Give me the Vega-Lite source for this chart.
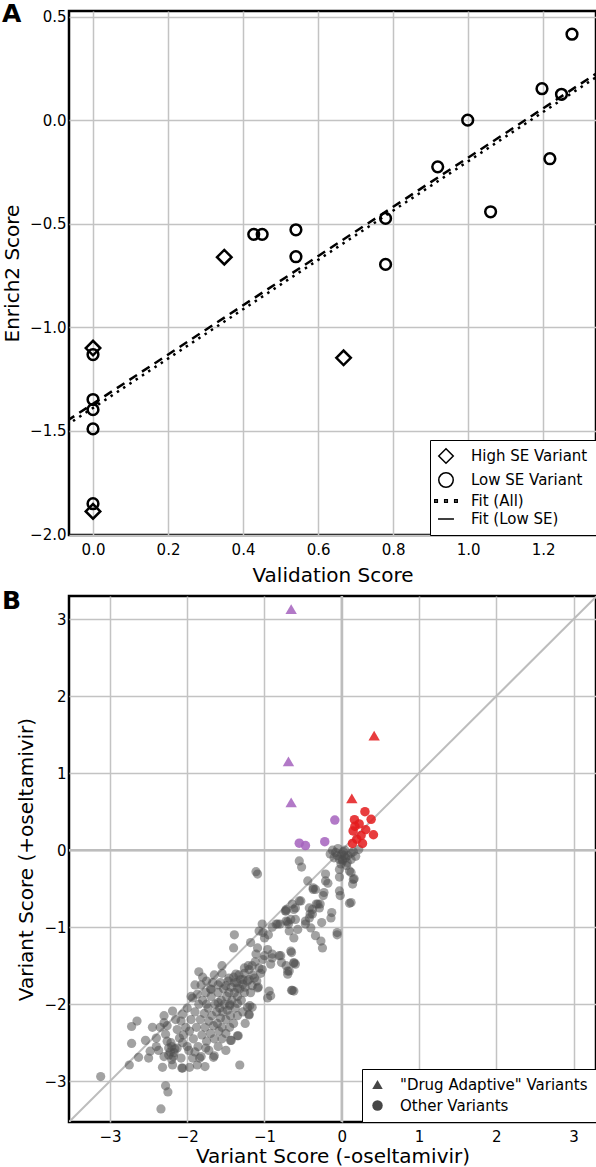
{
  "$schema": "https://vega.github.io/schema/vega-lite/v6.json",
  "padding": {"left": 0, "top": 0, "right": 1, "bottom": 0},
  "background": "white",
  "spacing": 0,
  "resolve": {"scale": {"shape": "independent", "color": "independent", "strokeDash": "independent", "size": "independent", "x": "independent", "y": "independent"}, "legend": {"shape": "independent"}},
  "datasets": {
    "ptsA": [
      {"vx": 0, "es": -1.10, "se": "High SE Variant"},
      {"vx": 0, "es": -1.888, "se": "High SE Variant"},
      {"vx": 0.35, "es": -0.661, "se": "High SE Variant"},
      {"vx": 0.668, "es": -1.147, "se": "High SE Variant"},
      {"vx": 0, "es": -1.131, "se": "Low SE Variant"},
      {"vx": 0, "es": -1.348, "se": "Low SE Variant"},
      {"vx": 0, "es": -1.397, "se": "Low SE Variant"},
      {"vx": 0, "es": -1.49, "se": "Low SE Variant"},
      {"vx": 0, "es": -1.851, "se": "Low SE Variant"},
      {"vx": 0.4285, "es": -0.551, "se": "Low SE Variant"},
      {"vx": 0.451, "es": -0.551, "se": "Low SE Variant"},
      {"vx": 0.541, "es": -0.529, "se": "Low SE Variant"},
      {"vx": 0.541, "es": -0.659, "se": "Low SE Variant"},
      {"vx": 0.78, "es": -0.474, "se": "Low SE Variant"},
      {"vx": 0.78, "es": -0.696, "se": "Low SE Variant"},
      {"vx": 0.919, "es": -0.225, "se": "Low SE Variant"},
      {"vx": 0.999, "es": 0.0, "se": "Low SE Variant"},
      {"vx": 1.06, "es": -0.442, "se": "Low SE Variant"},
      {"vx": 1.197, "es": 0.152, "se": "Low SE Variant"},
      {"vx": 1.218, "es": -0.186, "se": "Low SE Variant"},
      {"vx": 1.249, "es": 0.125, "se": "Low SE Variant"},
      {"vx": 1.277, "es": 0.415, "se": "Low SE Variant"}
    ],
    "fitA": [
      {"fit": "Fit (All)", "vx": -0.07, "es": -1.472},
      {"fit": "Fit (All)", "vx": 1.35, "es": 0.218},
      {"fit": "Fit (Low SE)", "vx": -0.07, "es": -1.452},
      {"fit": "Fit (Low SE)", "vx": 1.35, "es": 0.235}
    ],
    "grey": [
      {"x":-3.12,"y":-2.94},{"x":-2.34,"y":-3.36},{"x":-2.28,"y":-3.06},{"x":-2.25,"y":-3.14},{"x":-2.75,"y":-2.79},{"x":-2.63,"y":-2.69},{"x":-2.72,"y":-2.29},{"x":-2.65,"y":-2.22},{"x":-2.72,"y":-2.51},{"x":-2.54,"y":-2.47},{"x":-2.48,"y":-2.61},{"x":-2.37,"y":-2.60},{"x":-2.40,"y":-2.44},{"x":-2.32,"y":-2.82},{"x":-2.06,"y":-2.83},{"x":-1.85,"y":-1.58},{"x":-1.32,"y":-2.79},{"x":-1.66,"y":-2.69},{"x":-1.39,"y":-1.10},{"x":-1.40,"y":-1.27},{"x":-1.11,"y":-0.28},{"x":-1.09,"y":-0.31},{"x":-1.19,"y":-2.02},{"x":-1.20,"y":-2.14},{"x":-1.43,"y":-2.47},{"x":-1.34,"y":-2.41},{"x":-0.94,"y":-1.83},{"x":-0.96,"y":-1.92},{"x":-0.65,"y":-1.82},{"x":-1.08,"y":-1.78},{"x":-1.03,"y":-0.96},{"x":-1.00,"y":-1.14},{"x":-1.07,"y":-1.05},{"x":-0.85,"y":-0.96},{"x":-0.73,"y":-0.79},{"x":-0.60,"y":-0.75},{"x":-0.69,"y":-0.96},{"x":-0.65,"y":-1.33},{"x":-0.70,"y":-1.57},{"x":-0.62,"y":-1.47},{"x":-0.79,"y":-1.37},{"x":-0.92,"y":-1.48},{"x":-0.90,"y":-1.35},{"x":-0.52,"y":-0.22},{"x":-0.55,"y":-0.14},{"x":0.01,"y":-0.12},{"x":0.07,"y":-0.16},{"x":0.12,"y":-0.29},{"x":0.15,"y":-0.38},{"x":0.14,"y":-0.44},{"x":0.12,"y":-0.68},{"x":-0.03,"y":-0.53},{"x":-0.02,"y":-0.59},{"x":-0.06,"y":-1.10},{"x":-0.21,"y":-0.31},{"x":-0.21,"y":-0.40},{"x":-0.23,"y":-0.55},{"x":-0.24,"y":-0.59},{"x":-0.13,"y":-0.81},{"x":-0.14,"y":-0.88},{"x":-0.34,"y":-0.51},{"x":-0.37,"y":-0.51},{"x":-0.31,"y":-0.70},{"x":-0.38,"y":-0.77},{"x":-0.41,"y":-0.83},{"x":-0.26,"y":-0.94},{"x":-0.29,"y":-0.75},{"x":-0.44,"y":-0.40},{"x":-0.37,"y":-0.49},{"x":-0.60,"y":-0.90},{"x":-0.57,"y":-1.03},{"x":-0.62,"y":-1.14},{"x":-0.47,"y":-0.92},{"x":-0.40,"y":-1.01},{"x":-0.34,"y":-1.11},{"x":-0.27,"y":-1.18},{"x":-0.25,"y":-1.27},{"x":-0.55,"y":-0.66},{"x":-0.64,"y":-0.70},{"x":-0.60,"y":-1.48},{"x":-0.62,"y":-1.83},
      {"x":-0.12,"y":0.0},{"x":-0.05,"y":0.02},{"x":0.04,"y":0.0},{"x":0.12,"y":-0.04},{"x":0.22,"y":0.01},{"x":0.01,"y":-0.14},{"x":0.05,"y":-0.10},{"x":-0.03,"y":-0.12},{"x":0.12,"y":-0.12},{"x":0.03,"y":-0.07},{"x":-0.06,"y":-0.07},{"x":0.10,"y":-0.27},{"x":-0.03,"y":-0.25},{"x":-0.03,"y":-0.35},{"x":0.16,"y":-0.37},{"x":-0.18,"y":-0.43},{"x":-0.33,"y":-0.70},{"x":-0.28,"y":-0.70},{"x":0.10,"y":-0.69},{"x":-0.53,"y":-0.66},{"x":-0.72,"y":-0.77},{"x":-0.42,"y":-0.75},{"x":-0.38,"y":-0.83},{"x":-0.42,"y":-0.88},{"x":-0.47,"y":-0.96},{"x":-0.66,"y":-0.90},{"x":-0.72,"y":-0.92},{"x":-0.83,"y":-0.96},{"x":-1.02,"y":-1.07},{"x":-0.06,"y":-1.07},
      {"x":0.0,"y":-0.05},{"x":0.02,"y":-0.02},{"x":-0.08,"y":-0.03},{"x":0.08,"y":-0.07},{"x":-0.01,"y":-0.18},{"x":0.06,"y":-0.20},{"x":-0.10,"y":-0.10},{"x":0.15,"y":-0.02},{"x":-0.15,"y":-0.05},{"x":0.18,"y":-0.08},
      {"x":-0.80,"y":-0.96},{"x":-0.70,"y":-0.93},{"x":-0.68,"y":-1.05},{"x":-0.62,"y":-0.77},{"x":-0.72,"y":-0.79},
      {"x":-1.18,"y":-1.20},{"x":-1.09,"y":-1.27},{"x":-1.11,"y":-1.35},{"x":-0.96,"y":-1.29},{"x":-1.00,"y":-1.37},{"x":-0.90,"y":-1.40},{"x":-0.81,"y":-1.37},{"x":-0.78,"y":-1.46},{"x":-0.66,"y":-1.31},{"x":-0.62,"y":-1.46},{"x":-0.72,"y":-1.50},{"x":-0.68,"y":-1.57},{"x":-0.70,"y":-1.61},{"x":-0.64,"y":-1.82},
      {"x":-1.07,"y":-1.53},{"x":-1.03,"y":-1.55},{"x":-1.16,"y":-1.50},{"x":-1.21,"y":-1.50},{"x":-1.26,"y":-1.53},
      {"x":-1.46,"y":-1.66},{"x":-1.37,"y":-1.61},{"x":-1.31,"y":-1.68},{"x":-1.39,"y":-1.72},{"x":-1.50,"y":-1.76},{"x":-1.57,"y":-1.72},{"x":-1.35,"y":-1.79},{"x":-1.28,"y":-1.74},{"x":-1.20,"y":-1.68},{"x":-1.13,"y":-1.66},{"x":-1.16,"y":-1.76},{"x":-1.09,"y":-1.79},{"x":-1.26,"y":-1.85},
      {"x":-1.55,"y":-1.50},{"x":-0.92,"y":-1.89},
      {"x":-1.82,"y":-1.75},{"x":-1.93,"y":-1.92},{"x":-1.87,"y":-1.87},{"x":-1.67,"y":-1.72},{"x":-1.69,"y":-1.81},{"x":-1.76,"y":-1.85},
      {"x":-1.75,"y":-2.0},{"x":-1.6,"y":-1.98},{"x":-1.45,"y":-2.02},{"x":-1.35,"y":-1.99},{"x":-1.22,"y":-2.04},
      {"x":-2.19,"y":-2.79},{"x":-2.20,"y":-2.72},{"x":-2.17,"y":-2.63},{"x":-2.24,"y":-2.57},{"x":-2.26,"y":-2.48},{"x":-2.28,"y":-2.39},{"x":-2.26,"y":-2.28},{"x":-2.30,"y":-2.24},{"x":-2.30,"y":-2.15},{"x":-2.19,"y":-2.09},{"x":-2.15,"y":-2.20},{"x":-2.08,"y":-2.22},{"x":-2.06,"y":-2.13},{"x":-2.13,"y":-2.33},{"x":-2.10,"y":-2.44},{"x":-2.06,"y":-2.50},{"x":-2.13,"y":-2.57},{"x":-2.08,"y":-2.70},{"x":-2.07,"y":-2.83},
      {"x":-1.93,"y":-2.70},{"x":-1.87,"y":-2.79},{"x":-1.84,"y":-2.70},{"x":-1.76,"y":-2.57},{"x":-1.65,"y":-2.67},{"x":-1.77,"y":-2.81},{"x":-1.97,"y":-2.82},
      {"x":-1.44,"y":-2.47},{"x":-1.35,"y":-2.41},{"x":-1.20,"y":-2.13},{"x":-1.16,"y":-2.04},
      {"x":-1.97,"y":-2.35},{"x":-1.95,"y":-2.2},{"x":-1.92,"y":-2.45},{"x":-1.9,"y":-2.1},{"x":-1.88,"y":-2.3},{"x":-1.86,"y":-2.55},{"x":-1.85,"y":-2.0},{"x":-1.83,"y":-2.2},{"x":-1.81,"y":-2.4},{"x":-1.8,"y":-1.95},{"x":-1.78,"y":-2.12},{"x":-1.77,"y":-2.3},{"x":-1.75,"y":-2.48},{"x":-1.73,"y":-2.05},{"x":-1.72,"y":-2.22},{"x":-1.7,"y":-2.38},{"x":-1.69,"y":-1.9},{"x":-1.68,"y":-2.15},{"x":-1.66,"y":-2.28},{"x":-1.65,"y":-2.45},{"x":-1.64,"y":-2.0},{"x":-1.62,"y":-2.1},{"x":-1.61,"y":-2.25},{"x":-1.6,"y":-1.85},{"x":-1.59,"y":-2.35},{"x":-1.58,"y":-2.05},{"x":-1.57,"y":-2.18},{"x":-1.56,"y":-1.95},{"x":-1.55,"y":-2.3},{"x":-1.54,"y":-2.1},{"x":-1.53,"y":-1.8},{"x":-1.52,"y":-2.0},{"x":-1.5,"y":-2.2},{"x":-1.49,"y":-1.9},{"x":-1.48,"y":-2.08},{"x":-1.47,"y":-1.7},{"x":-1.46,"y":-1.85},{"x":-1.45,"y":-2.0},{"x":-1.44,"y":-2.15},{"x":-1.43,"y":-1.78},{"x":-1.42,"y":-1.95},{"x":-1.4,"y":-1.65},{"x":-1.39,"y":-1.85},{"x":-1.38,"y":-2.05},{"x":-1.36,"y":-1.72},{"x":-1.35,"y":-1.9},{"x":-1.33,"y":-1.62},{"x":-1.32,"y":-1.8},{"x":-1.3,"y":-1.95},{"x":-1.28,"y":-1.68},{"x":-1.26,"y":-1.6},{"x":-1.25,"y":-1.78},{"x":-1.22,"y":-1.7},{"x":-1.2,"y":-1.55},{"x":-1.18,"y":-1.85},{"x":-1.15,"y":-1.62},{"x":-1.12,"y":-1.45},{"x":-1.1,"y":-1.7},{"x":-1.05,"y":-1.6},{"x":-1.02,"y":-1.42},{"x":-1.6,"y":-1.75},{"x":-1.7,"y":-1.8},{"x":-1.75,"y":-1.7},{"x":-1.65,"y":-1.62},{"x":-1.55,"y":-1.6},{"x":-1.8,"y":-1.65},{"x":-1.9,"y":-1.75},{"x":-1.95,"y":-1.9},{"x":-2.0,"y":-2.05},{"x":-2.02,"y":-2.3},{"x":-2.05,"y":-2.4},{"x":-2.0,"y":-2.55},{"x":-1.98,"y":-2.6},{"x":-1.9,"y":-2.62},{"x":-1.82,"y":-2.68},{"x":-1.72,"y":-2.6},{"x":-1.6,"y":-2.55},{"x":-1.55,"y":-2.45},{"x":-1.5,"y":-2.38},{"x":-1.45,"y":-2.3},{"x":-1.4,"y":-2.25},{"x":-1.35,"y":-2.15},{"x":-1.28,"y":-2.1},{"x":-1.25,"y":-2.25},{"x":-1.5,"y":-2.6},
      {"x":-2.22,"y":-2.62},{"x":-2.2,"y":-2.55},{"x":-2.18,"y":-2.68},{"x":-2.24,"y":-2.66},{"x":-2.16,"y":-2.58},{"x":-2.21,"y":-2.5},
      {"x":-2.45,"y":-2.3},{"x":-2.35,"y":-2.3},{"x":-2.4,"y":-2.55},{"x":-2.3,"y":-2.68},{"x":-2.5,"y":-2.7},
      {"x":-0.95,"y":-1.1},{"x":-0.9,"y":-1.0}
    ],
    "colCirc": [
      {"x":-0.55,"y":0.09,"c":"p"},{"x":-0.47,"y":0.06,"c":"p"},{"x":-0.22,"y":0.11,"c":"p"},{"x":-0.09,"y":0.39,"c":"p"},
      {"x":0.30,"y":0.50,"c":"r"},{"x":0.38,"y":0.40,"c":"r"},{"x":0.164,"y":0.395,"c":"r"},{"x":0.225,"y":0.34,"c":"r"},{"x":0.147,"y":0.25,"c":"r"},{"x":0.31,"y":0.265,"c":"r"},{"x":0.41,"y":0.20,"c":"r"},{"x":0.138,"y":0.087,"c":"r"},{"x":0.268,"y":0.087,"c":"r"},{"x":0.194,"y":0.143,"c":"r"},{"x":0.17,"y":0.31,"c":"r"},{"x":0.25,"y":0.19,"c":"r"}
    ],
    "tri": [
      {"x":-0.655,"y":3.13,"c":"p","k":"a"},{"x":-0.69,"y":1.153,"c":"p","k":"a"},{"x":-0.655,"y":0.62,"c":"p","k":"a"},
      {"x":0.419,"y":1.487,"c":"r","k":"a"},{"x":0.13,"y":0.672,"c":"r","k":"a"}
    ]
  },
  "config": {
    "font": "DejaVu Sans",
    "view": {"stroke": "black", "strokeWidth": 2.5},
    "axis": {"grid": true, "gridColor": "#c3c3c3", "gridWidth": 1.5, "ticks": false, "domain": false,
             "labelFont": "DejaVu Sans", "labelFontSize": 15, "labelColor": "black",
             "titleFont": "DejaVu Sans", "titleFontSize": 20, "titleFontWeight": "normal", "titleColor": "black"},
    "axisX": {"labelPadding": 7, "titlePadding": 8},
    "axisY": {"labelPadding": 3, "titlePadding": 7},
    "legend": {"labelFont": "DejaVu Sans", "labelFontSize": 15, "labelColor": "black", "orient": "bottom-right",
               "offset": 0, "strokeColor": "black", "fillColor": "white", "labelLimit": 400}
  },
  "vconcat": [
    {
      "width": 527, "height": 524,
      "title": {"text": "A", "anchor": "start", "frame": "group", "fontSize": 25, "fontWeight": "bold", "font": "DejaVu Sans", "color": "black", "dx": -67, "dy": 0, "offset": -37, "baseline": "alphabetic"},
      "layer": [
        {
          "data": {"name": "fitA"},
          "mark": {"type": "line", "clip": true, "strokeWidth": 2.5, "color": "black"},
          "encoding": {
            "x": {"field": "vx", "type": "quantitative", "scale": {"domain": [-0.064, 1.341], "nice": false, "zero": false},
                  "axis": {"values": [0, 0.2, 0.4, 0.6, 0.8, 1.0, 1.2], "format": ".1f", "title": "Validation Score"}},
            "y": {"field": "es", "type": "quantitative", "scale": {"domain": [-2.002, 0.527], "nice": false, "zero": false},
                  "axis": {"values": [-2, -1.5, -1, -0.5, 0, 0.5], "format": ".1f", "title": "Enrich2 Score"}},
            "strokeDash": {"field": "fit", "type": "nominal", "scale": {"domain": ["Fit (All)", "Fit (Low SE)"], "range": [[2.5, 5], [9, 6]]}, "legend": null}
          }
        },
        {
          "data": {"name": "ptsA"},
          "mark": {"type": "point", "filled": false, "strokeWidth": 2.5, "color": "black", "opacity": 1},
          "encoding": {
            "x": {"field": "vx", "type": "quantitative"},
            "y": {"field": "es", "type": "quantitative"},
            "size": {"field": "se", "type": "nominal", "scale": {"domain": ["High SE Variant", "Low SE Variant"], "range": [210, 115], "padding": 0}, "legend": null},
            "shape": {"field": "se", "type": "nominal",
              "scale": {"domain": ["High SE Variant", "Low SE Variant", "Fit (All)", "Fit (Low SE)"],
                        "range": ["diamond", "circle", "M-1.55,-0.18H-1.2V0.18H-1.55Z M-0.18,-0.18H0.18V0.18H-0.18Z M1.2,-0.18H1.55V0.18H1.2Z", "M-1.1,0H1.1"]},
              "legend": {"title": null, "padding": 8, "rowPadding": 2, "labelOffset": 17, "symbolSize": 210,
                "encode": {
                  "legend": {"update": {"strokeWidth": {"value": 2.5}}},
                  "symbols": {"update": {
                    "fill": {"signal": "datum.value == 'Fit (All)' ? 'black' : 'transparent'"},
                    "stroke": {"value": "black"},
                    "strokeWidth": {"signal": "datum.value == 'Fit (All)' ? 0 : (datum.value == 'Fit (Low SE)' ? 3 : 2.5)"},
                    "size": {"signal": "datum.value == 'Low SE Variant' ? 120 : 210"},
                    "opacity": {"value": 1}
                  }}
                }}
            }
          }
        }
      ]
    },
    {
      "width": 527, "height": 526,
      "title": {"text": "B", "anchor": "start", "frame": "group", "fontSize": 25, "fontWeight": "bold", "font": "DejaVu Sans", "color": "black", "dx": -67, "dy": 0, "offset": -39, "baseline": "alphabetic"},
      "layer": [
        {
          "data": {"values": [{"a": -3.6}, {"a": 3.4}]},
          "mark": {"type": "line", "clip": true, "strokeWidth": 2, "color": "#bdbdbd"},
          "encoding": {
            "x": {"field": "a", "type": "quantitative", "scale": {"domain": [-3.53, 3.29], "nice": false, "zero": false},
                  "axis": {"values": [-3, -2, -1, 0, 1, 2, 3], "format": "d", "title": "Variant Score (-oseltamivir)", "titlePadding": 2}},
            "y": {"field": "a", "type": "quantitative", "scale": {"domain": [-3.53, 3.30], "nice": false, "zero": false},
                  "axis": {"values": [-3, -2, -1, 0, 1, 2, 3], "format": "d", "title": "Variant Score (+oseltamivir)"}}
          }
        },
        {
          "data": {"values": [{"z": 0}]},
          "mark": {"type": "rule", "strokeWidth": 2.5, "color": "#bdbdbd"},
          "encoding": {"x": {"field": "z", "type": "quantitative"}}
        },
        {
          "data": {"values": [{"z": 0}]},
          "mark": {"type": "rule", "strokeWidth": 2.5, "color": "#bdbdbd"},
          "encoding": {"y": {"field": "z", "type": "quantitative"}}
        },
        {
          "data": {"name": "grey"},
          "mark": {"type": "point", "filled": true, "shape": "circle", "size": 85, "color": "#4d4d4d", "opacity": 0.52, "strokeWidth": 0},
          "encoding": {"x": {"field": "x", "type": "quantitative"}, "y": {"field": "y", "type": "quantitative"}}
        },
        {
          "data": {"name": "colCirc"},
          "mark": {"type": "point", "filled": true, "shape": "circle", "size": 90, "opacity": 0.85, "strokeWidth": 0},
          "encoding": {
            "x": {"field": "x", "type": "quantitative"}, "y": {"field": "y", "type": "quantitative"},
            "color": {"field": "c", "type": "nominal", "scale": {"domain": ["p", "r"], "range": ["#a461bd", "#e41a1c"]}, "legend": null}
          }
        },
        {
          "data": {"name": "tri"},
          "mark": {"type": "point", "filled": true, "size": 130, "opacity": 0.85, "strokeWidth": 0},
          "encoding": {
            "x": {"field": "x", "type": "quantitative"}, "y": {"field": "y", "type": "quantitative"},
            "color": {"field": "c", "type": "nominal", "scale": {"domain": ["p", "r"], "range": ["#a461bd", "#e41a1c"]}, "legend": null},
            "shape": {"field": "k", "type": "nominal", "scale": {"domain": ["a", "o"], "range": ["triangle-up", "circle"]},
              "legend": {"title": null, "padding": 8, "rowPadding": 4, "labelOffset": 15, "symbolSize": 110,
                "labelExpr": "datum.value == 'a' ? '\"Drug Adaptive\" Variants' : 'Other Variants'",
                "encode": {
                  "legend": {"update": {"strokeWidth": {"value": 2.5}}},
                  "symbols": {"update": {"fill": {"value": "black"}, "stroke": {"value": "black"}, "strokeWidth": {"value": 0}, "opacity": {"value": 1}}}
                }}
            }
          }
        }
      ]
    }
  ]
}
